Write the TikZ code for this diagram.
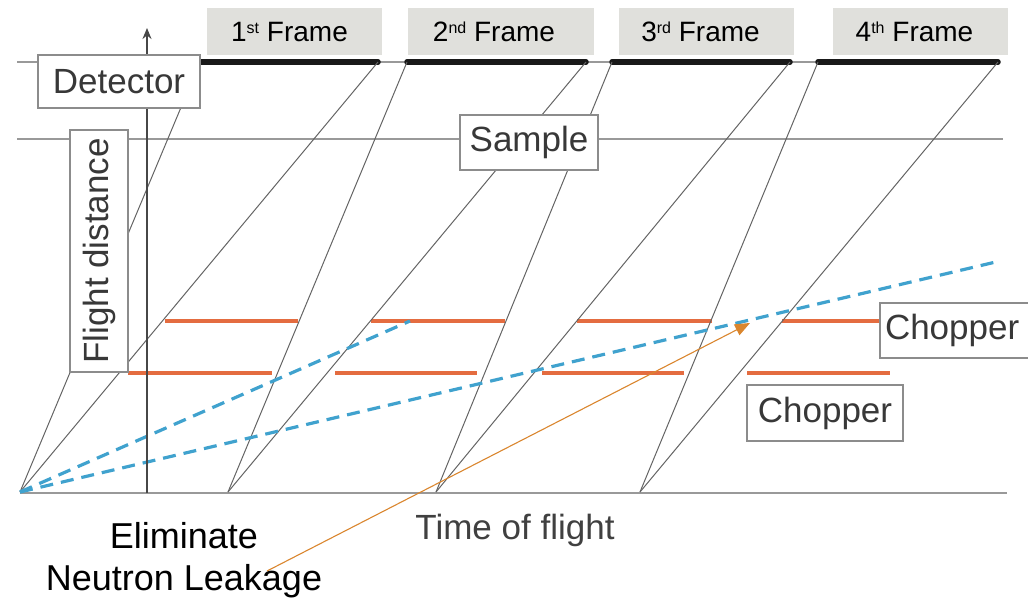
\documentclass[tikz,border=0pt]{standalone}
\usepackage{fontspec}
\setmainfont{Liberation Sans}
\usetikzlibrary{arrows.meta}
\definecolor{framegray}{RGB}{224,224,220}
\definecolor{chop}{RGB}{228,108,64}
\definecolor{beam}{RGB}{64,162,206}
\definecolor{arr}{RGB}{218,134,46}
\definecolor{tline}{RGB}{100,100,100}
\newcommand{\sups}[1]{\raisebox{8pt}{\fontsize{16}{16}\selectfont #1}}
\begin{document}
\begin{tikzpicture}[x=1pt,y=-1pt,
  lbl/.style={draw=black!45, line width=1.4pt, fill=white, text=black!78,
    font=\fontsize{35}{38}\selectfont, inner sep=0pt},
  framebox/.style={fill=framegray, font=\fontsize{28}{30}\selectfont, inner sep=0pt,
    minimum height=47pt, minimum width=175pt},
  tof/.style={draw=tline, line width=1pt},
  guide/.style={draw=black!40, line width=1.2pt},
  detseg/.style={draw=black!90, line width=5.5pt, line cap=round},
  chopseg/.style={draw=chop, line width=3.4pt},
  beamline/.style={draw=beam, line width=3.2pt, dash pattern=on 13pt off 8pt},
  axisline/.style={draw=black!72, line width=2.2pt},
  leak/.style={draw=arr, line width=1.1pt, -{Triangle[length=15pt,width=12pt]}}
]
\useasboundingbox (0,0) rectangle (1028,599);

% coordinates
\coordinate (p0) at (20,492);
\coordinate (p1) at (228,492);
\coordinate (p2) at (436,492);
\coordinate (p3) at (640,492);
\coordinate (f1s) at (200,62);  \coordinate (f1e) at (378,62);
\coordinate (f2s) at (407,62);  \coordinate (f2e) at (586,62);
\coordinate (f3s) at (612,62);  \coordinate (f3e) at (790,62);
\coordinate (f4s) at (818,62);  \coordinate (f4e) at (998,62);
\coordinate (detL) at (17,62);  \coordinate (detR) at (1000,62);
\coordinate (smpL) at (17,139); \coordinate (smpR) at (1003,139);
\coordinate (baseL) at (20,493); \coordinate (baseR) at (1007,493);
\coordinate (axbot) at (147,493); \coordinate (axtop) at (147,28);
\coordinate (beamA) at (410,321);
\coordinate (beamB) at (1000,261);
\coordinate (leakstart) at (267,571);
\coordinate (leaktip) at (750,323);

% guide lines
\draw[guide] (detL) -- (detR);
\draw[guide] (smpL) -- (smpR);
\draw[guide, line width=1.8pt] (baseL) -- (baseR);

% detector frames
\draw[detseg] (f1s) -- (f1e);
\draw[detseg] (f2s) -- (f2e);
\draw[detseg] (f3s) -- (f3e);
\draw[detseg] (f4s) -- (f4e);

% choppers
\coordinate (cu1) at (165,321); \coordinate (cu2) at (298,321);
\coordinate (cu3) at (371,321); \coordinate (cu4) at (505,321);
\coordinate (cu5) at (577,321); \coordinate (cu6) at (712,321);
\coordinate (cu7) at (782,321); \coordinate (cu8) at (882,321);
\coordinate (cl1) at (128,373); \coordinate (cl2) at (272,373);
\coordinate (cl3) at (335,373); \coordinate (cl4) at (477,373);
\coordinate (cl5) at (542,373); \coordinate (cl6) at (684,373);
\coordinate (cl7) at (747,373); \coordinate (cl8) at (890,373);
\draw[chopseg] (cu1) -- (cu2);
\draw[chopseg] (cu3) -- (cu4);
\draw[chopseg] (cu5) -- (cu6);
\draw[chopseg] (cu7) -- (cu8);
\draw[chopseg] (cl1) -- (cl2);
\draw[chopseg] (cl3) -- (cl4);
\draw[chopseg] (cl5) -- (cl6);
\draw[chopseg] (cl7) -- (cl8);

% neutron flight lines
\draw[tof] (p0) -- (f1s);
\draw[tof] (p0) -- (f1e);
\draw[tof] (p1) -- (f2s);
\draw[tof] (p1) -- (f2e);
\draw[tof] (p2) -- (f3s);
\draw[tof] (p2) -- (f3e);
\draw[tof] (p3) -- (f4s);
\draw[tof] (p3) -- (f4e);

% leaking neutrons
\draw[beamline] (p0) -- (beamA);
\draw[beamline] (p0) -- (beamB);

% axis
\draw[axisline, -{Stealth[length=11pt,width=9pt]}] (axbot) -- (axtop);

% labels
\node[lbl, minimum width=162pt, minimum height=53pt] (det) at (119,81.5) {Detector};
\node[lbl, minimum width=138pt, minimum height=55pt] (smp) at (529,142.5) {Sample};
\node[lbl, rotate=90, minimum width=242pt, minimum height=58pt] (fd) at (99,251) {Flight distance};
\node[lbl, minimum width=156pt, minimum height=55pt, text width=146pt, align=left] (chu) at (958,330.5) {Chopper};
\node[lbl, minimum width=156pt, minimum height=56pt] (chl) at (825,413) {Chopper};

% frames
\node[framebox] (fr1) at (294.5,32) {1\sups{st} Frame\hspace*{10pt}};
\node[framebox, minimum width=186pt] (fr2) at (501,31.5) {2\sups{nd} Frame\hspace*{14pt}};
\node[framebox] (fr3) at (706.5,31.5) {3\sups{rd} Frame\hspace*{12pt}};
\node[framebox] (fr4) at (920.5,31.5) {4\sups{th} Frame\hspace*{12pt}};

% axis title
\node[text=black!75, font=\fontsize{35}{38}\selectfont] (tof) at (515,530) {Time of flight};

% annotation
\node[align=center, font=\fontsize{36}{42}\selectfont, inner sep=0pt] (elim) at (184,560) {Eliminate\\Neutron Leakage};
\draw[leak] (leakstart) -- (leaktip);
\end{tikzpicture}
\end{document}
